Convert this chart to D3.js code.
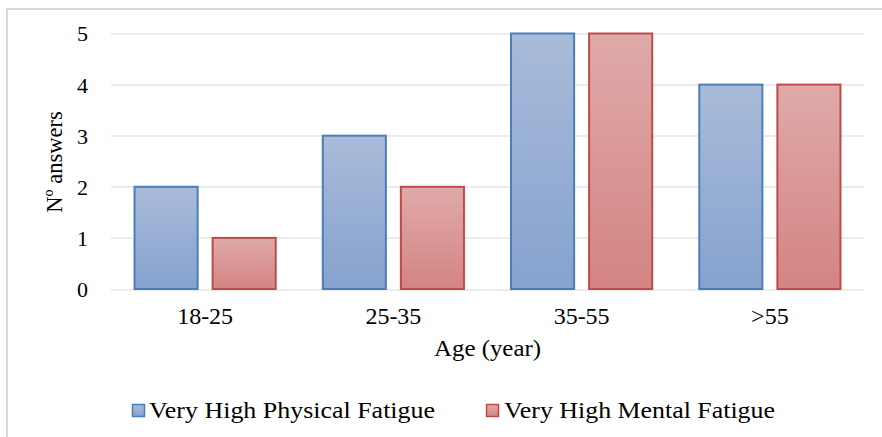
<!DOCTYPE html>
<html>
<head>
<meta charset="utf-8">
<script src="https://cdn.jsdelivr.net/npm/d3@7"></script>
<style>
  html, body { margin: 0; padding: 0; background: #ffffff; }
</style>
</head>
<body>
<svg id="chart" width="882" height="437"></svg>
<script>
// Age groups and answer counts per fatigue type
const categories = ["18-25", "25-35", "35-55", ">55"];
const seriesNames = ["Very High Physical Fatigue", "Very High Mental Fatigue"];
const physical = [2, 3, 5, 4];
const mental = [1, 2, 5, 4];
const yTicks = [0, 1, 2, 3, 4, 5];

const seriesValues = [physical, mental];

const svg = d3.select("#chart");
const margin = { left: 111, right: 18, top: 33.5, bottom: 148 };
const W = 882, H = 437;
const plotW = W - margin.left - margin.right;
const plotH = H - margin.top - margin.bottom;
const serif = '"Liberation Serif"';

// outer chart-area frame
svg.append("rect")
  .attr("x", 7).attr("y", 9)
  .attr("width", 900).attr("height", 500)
  .attr("fill", "#ffffff")
  .attr("stroke", "#d9d9d9")
  .attr("stroke-width", 2);

// gradients for the bar fills
const defs = svg.append("defs");
const fills = [
  { id: "gBlue", top: "#a9bbd9", bottom: "#86a2cf" },
  { id: "gRed", top: "#dfaaa9", bottom: "#d38483" }
];
fills.forEach(f => {
  const lg = defs.append("linearGradient").attr("id", f.id)
    .attr("x1", 0).attr("y1", 0).attr("x2", 0).attr("y2", 1);
  lg.append("stop").attr("offset", "0%").attr("stop-color", f.top);
  lg.append("stop").attr("offset", "100%").attr("stop-color", f.bottom);
});
const strokes = ["#4a7ebb", "#be4b48"];
const fillUrls = ["url(#gBlue)", "url(#gRed)"];

const g = svg.append("g").attr("transform", `translate(${margin.left},${margin.top})`);

const y = d3.scaleLinear().domain([0, 5]).range([plotH, 0]);
const x0 = d3.scaleBand().domain(categories).range([0, plotW]).padding(0);
const bw = x0.bandwidth();
const x1 = d3.scaleBand().domain(d3.range(seriesNames.length))
  .range([bw * 0.125, bw * 0.875]).paddingInner(0.192);

// horizontal gridlines
g.append("g")
  .selectAll("line")
  .data(yTicks)
  .join("line")
  .attr("x1", 0).attr("x2", plotW)
  .attr("y1", d => Math.round(y(d)) + 0.5).attr("y2", d => Math.round(y(d)) + 0.5)
  .attr("stroke", "#d9d9d9").attr("stroke-width", 1.2);

// y axis labels
const yAxis = d3.axisLeft(y).tickValues(yTicks).tickSize(0).tickPadding(23).tickFormat(d3.format("d"));
const yG = g.append("g").call(yAxis);
yG.select(".domain").remove();
yG.selectAll("text")
  .style("font-family", serif)
  .style("font-size", "22px")
  .attr("fill", "#000")
  .attr("dy", "0.34em");

// bars
const groups = g.append("g").selectAll("g")
  .data(categories)
  .join("g")
  .attr("transform", d => `translate(${x0(d)},0)`);

groups.selectAll("rect")
  .data((c, i) => seriesValues.map((vals, s) => ({ s, v: vals[i] })))
  .join("rect")
  .attr("x", d => x1(d.s))
  .attr("width", x1.bandwidth())
  .attr("y", d => y(d.v))
  .attr("height", d => y(0) - y(d.v))
  .attr("fill", d => fillUrls[d.s])
  .attr("stroke", d => strokes[d.s])
  .attr("stroke-width", 2);

// x axis labels
const xAxis = d3.axisBottom(x0).tickSize(0).tickPadding(18);
const xG = g.append("g").attr("transform", `translate(0,${plotH})`).call(xAxis);
xG.select(".domain").remove();
xG.selectAll("text")
  .style("font-family", serif)
  .style("font-size", "24px")
  .attr("fill", "#000")
  .attr("dy", "0.71em");

// axis titles
svg.append("text")
  .attr("x", margin.left + plotW / 2).attr("y", 356)
  .attr("text-anchor", "middle")
  .style("font-family", serif)
  .style("font-size", "24px")
  .attr("textLength", 107)
  .attr("lengthAdjust", "spacingAndGlyphs")
  .text("Age (year)");

svg.append("text")
  .attr("transform", `translate(62,162) rotate(-90)`)
  .attr("text-anchor", "middle")
  .style("font-family", serif)
  .style("font-size", "22.5px")
  .text("Nº answers");

// legend
const legendX = [132, 486];
const legendTextW = [286, 271];
const legend = svg.append("g").selectAll("g")
  .data(seriesNames)
  .join("g")
  .attr("transform", (d, i) => `translate(${legendX[i]},404)`);
legend.append("rect")
  .attr("x", 0.5).attr("y", 0.5)
  .attr("width", 12).attr("height", 12)
  .attr("fill", (d, i) => fillUrls[i])
  .attr("stroke", (d, i) => strokes[i])
  .attr("stroke-width", 1.5);
legend.append("text")
  .attr("x", (d, i) => i === 0 ? 17 : 18).attr("y", 13.5)
  .style("font-family", serif)
  .style("font-size", "23px")
  .attr("textLength", (d, i) => legendTextW[i])
  .attr("lengthAdjust", "spacingAndGlyphs")
  .text(d => d);
</script>
</body>
</html>
